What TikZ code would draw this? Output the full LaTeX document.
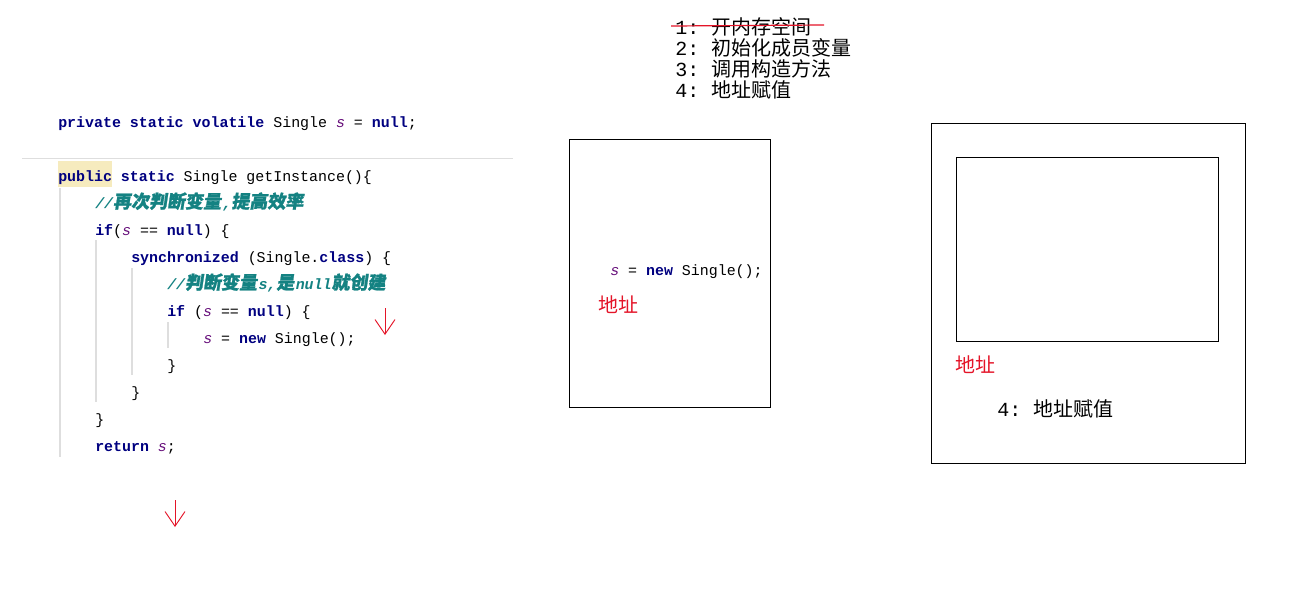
\documentclass[tikz,border=0pt]{standalone}
\usepackage{fontspec}
\setmonofont{Liberation Mono}
\newfontfamily\cjk{Noto Sans CJK SC}
\newfontfamily\cjkit[FakeSlant=0.15,FakeBold=1.2]{Noto Sans CJK SC}
\usetikzlibrary{arrows.meta,positioning}
\definecolor{kwblue}{RGB}{0,0,128}
\definecolor{varpurple}{RGB}{102,14,122}
\definecolor{cmtteal}{RGB}{20,130,130}
\definecolor{pubyellow}{RGB}{246,235,190}
\definecolor{guidegray}{RGB}{222,222,222}
\definecolor{markred}{RGB}{228,20,40}

\newcommand{\codefont}{\fontsize{11.2pt}{13pt}\ttfamily}
\newcommand{\kw}[1]{{\bfseries\color{kwblue}#1}}
\newcommand{\sv}{{\itshape\color{varpurple}s}}
\newcommand{\cmtzh}[1]{{\fontsize{13.5pt}{15pt}\cjkit #1}}
\newcommand{\cmt}[1]{{\color{cmtteal}\bfseries\itshape #1}}

\begin{document}
\begin{tikzpicture}[
    x=0.75pt, y=-0.75pt,
    >={Straight Barb[length=11pt,width=15pt]},
    code/.style={anchor=base west, inner sep=0pt, font=\codefont},
    zh/.style={anchor=base west, inner sep=0pt, font=\fontsize{15pt}{18pt}\cjk},
    addr/.style={zh, text=markred},
    memrect/.style={draw, line width=0.75pt},
    guide/.style={draw=guidegray, line width=0.8pt},
    redarr/.style={->, draw=markred, line width=0.7pt}
]
    \useasboundingbox (0,0) rectangle (1295,601);

    % Code on the left
    \node[code] (decl) at (58,127) {\kw{private static volatile} Single \sv{} = \kw{null};};
    \draw[guidegray] (22,158) -- (513,158);
    \fill[pubyellow] (58,161) rectangle (112,187);
    \node[code] (getinst) at (58,181) {\kw{public static} Single getInstance()\{};
    \node[code] (cmt1) at (95,208) {\cmt{//\cmtzh{再次判断变量}\kern1pt,\cmtzh{提高效率}}};
    \node[code] (if1) at (95,235) {\kw{if}(\sv{} == \kw{null}) \{};
    \node[code] (sync) at (131,262) {\kw{synchronized} (Single.\kw{class}) \{};
    \node[code] (cmt2) at (167,289) {\cmt{//\cmtzh{判断变量}\kern1pt s,\cmtzh{是}\kern1pt null\cmtzh{就创建}}};
    \node[code] (if2) at (167,316) {\kw{if} (\sv{} == \kw{null}) \{};
    \node[code] (newobj) at (203,343) {\sv{} = \kw{new} Single();};
    \node[code] (close3) at (167,370) {\}};
    \node[code] (close2) at (131,397) {\}};
    \node[code] (close1) at (95,424) {\}};
    \node[code] (ret) at (95,451) {\kw{return} \sv{};};

    % indent guides
    \draw[guide] (60,188) -- (60,457);
    \draw[guide] (96,240) -- (96,402);
    \draw[guide] (132,268) -- (132,375);
    \draw[guide] (168,322) -- (168,348);

    % red arrows
    \coordinate (arrAs) at (385,308);
    \coordinate (arrAe) at (385,335);
    \coordinate (arrBs) at (175,500);
    \coordinate (arrBe) at (175,527);
    \draw[redarr] (arrAs) -- (arrAe);
    \draw[redarr] (arrBs) -- (arrBe);

    % steps of new
    \node[zh] (step1) at (675,34) {{\ttfamily 1: }开内存空间};
    \node[zh] (step2) at (675,55) {{\ttfamily 2: }初始化成员变量};
    \node[zh] (step3) at (675,76) {{\ttfamily 3: }调用构造方法};
    \node[zh] (step4) at (675,97) {{\ttfamily 4: }地址赋值};
    \draw[markred, line width=0.9pt] (671,26) -- (824,25);

    % stack frame
    \draw[memrect] (569,139) rectangle (770,407);
    \node[code] (stacknew) at (610,275) {\sv{} = \kw{new} Single();};
    \node[addr] (addrA) at (598,312) {地址};

    % heap object
    \draw[memrect] (931,123) rectangle (1245,463);
    \draw[memrect] (956,157) rectangle (1218,341);
    \node[addr] (addrB) at (955,372) {地址};
    \node[zh] (assign) at (997,416) {{\ttfamily 4: }地址赋值};
\end{tikzpicture}
\end{document}
